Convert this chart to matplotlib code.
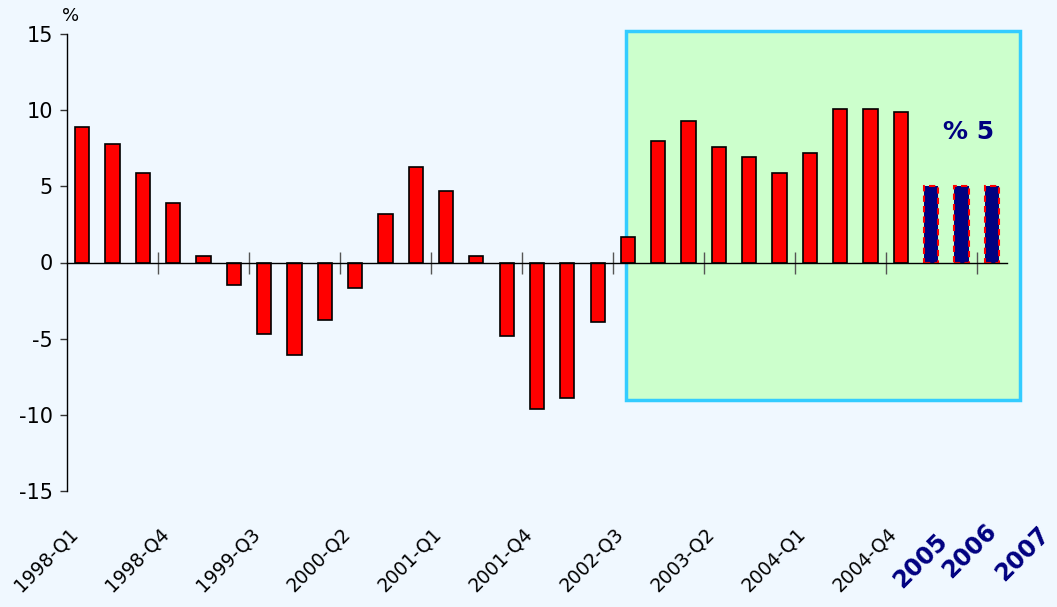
import numpy as np
import matplotlib
matplotlib.use('Agg')
import matplotlib.pyplot as plt
from matplotlib.patches import Rectangle
from matplotlib.transforms import blended_transform_factory, offset_copy

plt.rcParams['font.family'] = ['DejaVu Sans']
plt.rcParams['axes.unicode_minus'] = False

# quarterly growth, %
quarters = ['1998-Q1', '1998-Q2', '1998-Q3', '1998-Q4',
            '1999-Q1', '1999-Q2', '1999-Q3', '1999-Q4',
            '2000-Q1', '2000-Q2', '2000-Q3', '2000-Q4',
            '2001-Q1', '2001-Q2', '2001-Q3', '2001-Q4',
            '2002-Q1', '2002-Q2', '2002-Q3', '2002-Q4',
            '2003-Q1', '2003-Q2', '2003-Q3', '2003-Q4',
            '2004-Q1', '2004-Q2', '2004-Q3', '2004-Q4']
quarter_values = [8.9, 7.8, 5.9, 3.9,
                  0.4, -1.5, -4.7, -6.1,
                  -3.75, -1.7, 3.2, 6.3,
                  4.7, 0.4, -4.8, -9.6,
                  -8.9, -3.9, 1.65, 7.95,
                  9.3, 7.6, 6.9, 5.85,
                  7.2, 10.1, 10.1, 9.85]
# forecast years
years = ['2005', '2006', '2007']
year_values = [5.0, 5.0, 5.0]
forecast_note = '% 5'

bg = '#F0F8FF'
navy = '#000080'

fig = plt.figure(figsize=(10.57, 6.07), dpi=100, facecolor=bg)
ax = fig.add_axes([67 / 1057, 1 - 491 / 607, 940 / 1057, 457 / 607])
ax.set_facecolor(bg)

nq = len(quarters)
xq = np.arange(nq)
xy = np.arange(nq, nq + len(years))
width = 0.47

# highlighted region behind the bars
box = Rectangle((17.94, -9.0), 30.92 - 17.94, 15.2 + 9.0,
                facecolor='#CCFFCC', edgecolor='#33CCFF', linewidth=2.5,
                zorder=0.5, clip_on=False)
ax.add_patch(box)

ax.bar(xq, quarter_values, width=width, color='#FF0000',
       edgecolor='black', linewidth=1.2, zorder=2)
ax.bar(xy, year_values, width=width, color=navy,
       edgecolor='#FF0000', linewidth=1.5, linestyle=(0, (3, 2)), zorder=2)

ax.set_xlim(-0.5, nq + len(years) - 0.5)
ax.set_ylim(-15, 15)
ax.set_yticks(np.arange(-15, 16, 5))
ax.tick_params(axis='y', direction='out', length=5, width=1, pad=5,
               labelsize=15, color='#333333')

# x axis as a line at zero, ticks every three periods
for s in ['top', 'right']:
    ax.spines[s].set_visible(False)
ax.spines['bottom'].set_position(('data', 0))
ax.spines['bottom'].set_linewidth(1)
ax.spines['left'].set_linewidth(1)
ax.set_xticks(np.arange(2.5, nq + len(years) - 1, 3))
ax.tick_params(axis='x', direction='inout', length=16, width=1,
               color='#555555', labelbottom=False)

# category labels below the plot
trans = blended_transform_factory(ax.transData, ax.transAxes)
lab_trans = offset_copy(trans, fig=fig, x=-14, y=-33, units='dots')
for i in range(0, nq, 3):
    ax.text(i, 0, quarters[i], transform=lab_trans, rotation=45,
            rotation_mode='anchor', ha='right', va='top', fontsize=13.5)

year_dx = [4, 23, 45]
year_dy = [-38, -28, -31]
for k, (x, lab) in enumerate(zip(xy, years)):
    t = offset_copy(trans, fig=fig, x=year_dx[k], y=year_dy[k], units='dots')
    ax.text(x, 0, lab, transform=t, rotation=45, rotation_mode='anchor',
            ha='right', va='top', fontsize=17, fontweight='bold', color=navy)

ax.text(28.39, 8.54, forecast_note, fontsize=18, fontweight='bold',
        color=navy, ha='left', va='center', zorder=3)

ax.text(0.004, 1.02, '%', transform=ax.transAxes, fontsize=13,
        ha='center', va='bottom')

fig.savefig('out.png', dpi=100, facecolor=bg)
